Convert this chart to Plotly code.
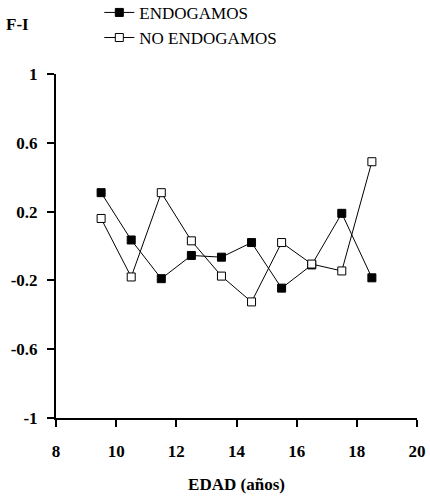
import plotly.graph_objects as go

edad = [9.5, 10.5, 11.5, 12.5, 13.5, 14.5, 15.5, 16.5, 17.5, 18.5]
endogamos = [0.31, 0.035, -0.19, -0.055, -0.065, 0.02, -0.245, -0.11, 0.19, -0.185]
no_endogamos = [0.16, -0.18, 0.31, 0.03, -0.175, -0.325, 0.02, -0.105, -0.145, 0.49]
x_ticks = [8, 10, 12, 14, 16, 18, 20]
y_ticks = [-1, -0.6, -0.2, 0.2, 0.6, 1]
y_tick_text = ["-1", "-0.6", "-0.2", "0.2", "0.6", "1"]

serif = "serif"

fig = go.Figure()
fig.add_trace(go.Scatter(
    x=edad, y=endogamos, name="ENDOGAMOS", mode="lines+markers",
    line=dict(color="black", width=1),
    marker=dict(symbol="square", size=8, color="black", line=dict(color="black", width=1)),
))
fig.add_trace(go.Scatter(
    x=edad, y=no_endogamos, name="NO ENDOGAMOS", mode="lines+markers",
    line=dict(color="black", width=1),
    marker=dict(symbol="square", size=8, color="white", line=dict(color="black", width=1)),
))

fig.update_layout(
    width=430, height=498,
    margin=dict(l=56, r=13, t=74, b=80, autoexpand=False),
    paper_bgcolor="white", plot_bgcolor="white",
    font=dict(family=serif, color="black"),
    showlegend=True,
    legend=dict(
        x=0.12, y=1.23, xanchor="left", yanchor="top",
        font=dict(family=serif, size=17, color="black"),
        bgcolor="rgba(0,0,0,0)", tracegroupgap=0, itemwidth=30,
    ),
    xaxis=dict(
        range=[8, 20], tickvals=x_ticks, ticktext=[str(v) for v in x_ticks],
        showgrid=False, zeroline=False, showline=True, linecolor="black", linewidth=2,
        ticks="outside", ticklen=7, tickwidth=2, tickcolor="black", ticklabelstandoff=10,
        tickfont=dict(family=serif, size=17, color="black", weight="bold"),
        title=dict(text="EDAD (años)", font=dict(family=serif, size=17, color="black", weight="bold"), standoff=18),
    ),
    yaxis=dict(
        range=[-1, 1], tickvals=y_ticks, ticktext=y_tick_text,
        showgrid=False, zeroline=False, showline=True, linecolor="black", linewidth=2,
        ticks="outside", ticklen=7, tickwidth=2, tickcolor="black", ticklabelstandoff=6,
        tickfont=dict(family=serif, size=17, color="black", weight="bold"),
    ),
    annotations=[dict(
        text="F-I", xref="paper", yref="paper", x=-0.145, y=1.145,
        xanchor="left", yanchor="middle", showarrow=False,
        font=dict(family=serif, size=17, color="black", weight="bold"),
    )],
)

fig.write_html("out.html")
